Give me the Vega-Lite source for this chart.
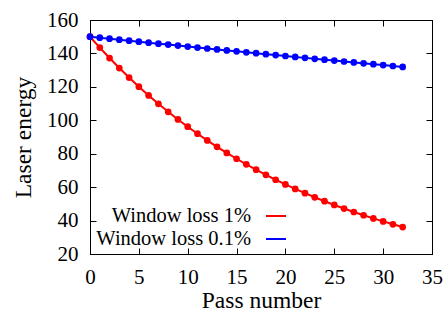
{
  "$schema": "https://vega.github.io/schema/vega-lite/v6.json",
  "width": 342,
  "height": 234,
  "autosize": "none",
  "padding": {"left": 90, "top": 20, "right": 13, "bottom": 58},
  "background": "white",
  "config": {
    "view": {"stroke": "black", "strokeWidth": 1},
    "font": "Liberation Serif",
    "axis": {
      "labelFont": "Liberation Serif", "labelFontSize": 21, "labelColor": "black",
      "titleFont": "Liberation Serif", "titleFontSize": 23.5, "titleFontWeight": "normal", "titleColor": "black",
      "domainColor": "black", "tickColor": "black", "grid": false, "tickSize": -6, "labelFlush": false
    },
    "legend": {
      "labelFont": "Liberation Serif", "labelFontSize": 20.5, "labelColor": "black", "labelLimit": 0
    }
  },
  "data": {"values": [
    {"pass":0,"energy":150,"series":"Window loss 1%"},
    {"pass":1,"energy":143.48,"series":"Window loss 1%"},
    {"pass":2,"energy":137.24,"series":"Window loss 1%"},
    {"pass":3,"energy":131.26,"series":"Window loss 1%"},
    {"pass":4,"energy":125.55,"series":"Window loss 1%"},
    {"pass":5,"energy":120.09,"series":"Window loss 1%"},
    {"pass":6,"energy":114.87,"series":"Window loss 1%"},
    {"pass":7,"energy":109.87,"series":"Window loss 1%"},
    {"pass":8,"energy":105.09,"series":"Window loss 1%"},
    {"pass":9,"energy":100.52,"series":"Window loss 1%"},
    {"pass":10,"energy":96.15,"series":"Window loss 1%"},
    {"pass":11,"energy":91.96,"series":"Window loss 1%"},
    {"pass":12,"energy":87.96,"series":"Window loss 1%"},
    {"pass":13,"energy":84.14,"series":"Window loss 1%"},
    {"pass":14,"energy":80.48,"series":"Window loss 1%"},
    {"pass":15,"energy":76.98,"series":"Window loss 1%"},
    {"pass":16,"energy":73.63,"series":"Window loss 1%"},
    {"pass":17,"energy":70.42,"series":"Window loss 1%"},
    {"pass":18,"energy":67.36,"series":"Window loss 1%"},
    {"pass":19,"energy":64.43,"series":"Window loss 1%"},
    {"pass":20,"energy":61.63,"series":"Window loss 1%"},
    {"pass":21,"energy":58.95,"series":"Window loss 1%"},
    {"pass":22,"energy":56.38,"series":"Window loss 1%"},
    {"pass":23,"energy":53.93,"series":"Window loss 1%"},
    {"pass":24,"energy":51.58,"series":"Window loss 1%"},
    {"pass":25,"energy":49.34,"series":"Window loss 1%"},
    {"pass":26,"energy":47.19,"series":"Window loss 1%"},
    {"pass":27,"energy":45.14,"series":"Window loss 1%"},
    {"pass":28,"energy":43.18,"series":"Window loss 1%"},
    {"pass":29,"energy":41.30,"series":"Window loss 1%"},
    {"pass":30,"energy":39.50,"series":"Window loss 1%"},
    {"pass":31,"energy":37.78,"series":"Window loss 1%"},
    {"pass":32,"energy":36.14,"series":"Window loss 1%"},
    {"pass":0,"energy":150,"series":"Window loss 0.1%"},
    {"pass":1,"energy":149.40,"series":"Window loss 0.1%"},
    {"pass":2,"energy":148.80,"series":"Window loss 0.1%"},
    {"pass":3,"energy":148.21,"series":"Window loss 0.1%"},
    {"pass":4,"energy":147.61,"series":"Window loss 0.1%"},
    {"pass":5,"energy":147.02,"series":"Window loss 0.1%"},
    {"pass":6,"energy":146.43,"series":"Window loss 0.1%"},
    {"pass":7,"energy":145.85,"series":"Window loss 0.1%"},
    {"pass":8,"energy":145.27,"series":"Window loss 0.1%"},
    {"pass":9,"energy":144.69,"series":"Window loss 0.1%"},
    {"pass":10,"energy":144.11,"series":"Window loss 0.1%"},
    {"pass":11,"energy":143.53,"series":"Window loss 0.1%"},
    {"pass":12,"energy":142.96,"series":"Window loss 0.1%"},
    {"pass":13,"energy":142.38,"series":"Window loss 0.1%"},
    {"pass":14,"energy":141.81,"series":"Window loss 0.1%"},
    {"pass":15,"energy":141.25,"series":"Window loss 0.1%"},
    {"pass":16,"energy":140.68,"series":"Window loss 0.1%"},
    {"pass":17,"energy":140.12,"series":"Window loss 0.1%"},
    {"pass":18,"energy":139.56,"series":"Window loss 0.1%"},
    {"pass":19,"energy":139.00,"series":"Window loss 0.1%"},
    {"pass":20,"energy":138.45,"series":"Window loss 0.1%"},
    {"pass":21,"energy":137.89,"series":"Window loss 0.1%"},
    {"pass":22,"energy":137.34,"series":"Window loss 0.1%"},
    {"pass":23,"energy":136.79,"series":"Window loss 0.1%"},
    {"pass":24,"energy":136.25,"series":"Window loss 0.1%"},
    {"pass":25,"energy":135.70,"series":"Window loss 0.1%"},
    {"pass":26,"energy":135.16,"series":"Window loss 0.1%"},
    {"pass":27,"energy":134.62,"series":"Window loss 0.1%"},
    {"pass":28,"energy":134.08,"series":"Window loss 0.1%"},
    {"pass":29,"energy":133.54,"series":"Window loss 0.1%"},
    {"pass":30,"energy":133.01,"series":"Window loss 0.1%"},
    {"pass":31,"energy":132.48,"series":"Window loss 0.1%"},
    {"pass":32,"energy":131.95,"series":"Window loss 0.1%"}
  ]},
  "resolve": {"axis": {"x": "independent", "y": "independent"}},
  "layer": [
    {
      "mark": {"type": "line", "strokeWidth": 2},
      "encoding": {
        "x": {"field": "pass", "type": "quantitative", "scale": {"domain": [0, 35], "nice": false},
              "axis": {"values": [0,5,10,15,20,25,30,35], "title": "Pass number", "titlePadding": 1, "labelPadding": 18}},
        "y": {"field": "energy", "type": "quantitative", "scale": {"domain": [20, 160], "nice": false, "zero": false},
              "axis": {"values": [20,40,60,80,100,120,140,160], "title": "Laser energy", "titlePadding": 11, "labelPadding": 18}},
        "color": {"field": "series", "type": "nominal",
                  "scale": {"domain": ["Window loss 1%", "Window loss 0.1%"], "range": ["#ff0000", "#0000ff"]},
                  "legend": {"title": null, "orient": "none", "legendX": 175, "legendY": 185, "padding": 0,
                             "symbolType": "stroke", "symbolSize": 400, "symbolStrokeWidth": 2,
                             "labelAlign": "right", "labelOffset": -36, "rowPadding": 1}}
      }
    },
    {
      "mark": {"type": "point", "filled": true, "size": 45, "opacity": 1},
      "encoding": {
        "x": {"field": "pass", "type": "quantitative",
              "axis": {"orient": "top", "values": [0,5,10,15,20,25,30,35], "labels": false, "title": null}},
        "y": {"field": "energy", "type": "quantitative",
              "axis": {"orient": "right", "values": [20,40,60,80,100,120,140,160], "labels": false, "title": null}},
        "color": {"field": "series", "type": "nominal", "legend": null}
      }
    }
  ]
}
